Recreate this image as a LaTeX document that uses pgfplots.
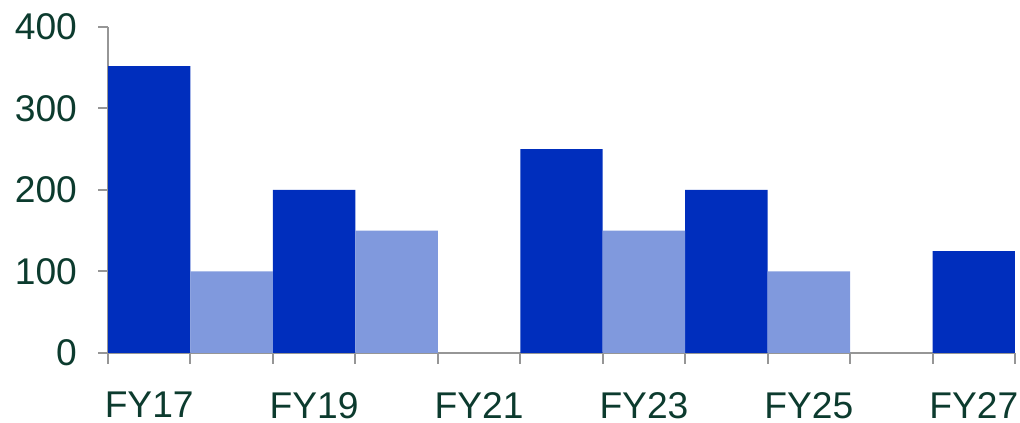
\documentclass[border=0pt]{standalone}
\usepackage{fontspec}
\setmainfont{Liberation Sans}
\usepackage{pgfplots}
\pgfplotsset{compat=1.18}
\definecolor{darkb}{RGB}{0,46,189}
\definecolor{lightb}{RGB}{128,153,221}
\definecolor{txt}{RGB}{12,59,46}
\definecolor{axg}{RGB}{150,150,150}
\begin{document}
\begin{tikzpicture}
\begin{axis}[
  name=ax,
  scale only axis,
  width=453.5pt, height=163pt,
  xmin=-0.5, xmax=10.5,
  ymin=0, ymax=400,
  axis x line=bottom, axis y line=left,
  axis line style={axg, line width=1pt, -},
  ybar, bar width=41.2pt, bar shift=0pt,
  xtick={0,2,4,6,8,10},
  xticklabels={FY17,FY19,FY21,FY23,FY25,FY27},
  major x tick style={draw=none},
  minor xtick={-0.5,0.5,...,10.5},
  minor tick length=5.5pt,
  minor x tick style={axg, line width=1pt},
  ytick={0,100,200,300,400},
  major tick length=5pt,
  y tick style={axg, line width=1pt},
  tick align=outside,
  ticklabel style={font=\fontsize{18.6}{20}\selectfont, text=txt},
  /pgf/number format/assume math mode=true,
  xticklabel style={yshift=-11pt},
  yticklabel style={xshift=-7pt},
  clip=false,
]
\addplot[fill=darkb, draw=none] coordinates {(0,352) (2,200) (5,250) (7,200) (10,125)};
\addplot[fill=lightb, draw=none] coordinates {(1,100) (3,150) (6,150) (8,100)};
\end{axis}
\pgfresetboundingbox
\path (ax.south west) ++(-54pt,-35pt) rectangle ([shift={(2.5pt,13.5pt)}]ax.north east);
\end{tikzpicture}
\end{document}
